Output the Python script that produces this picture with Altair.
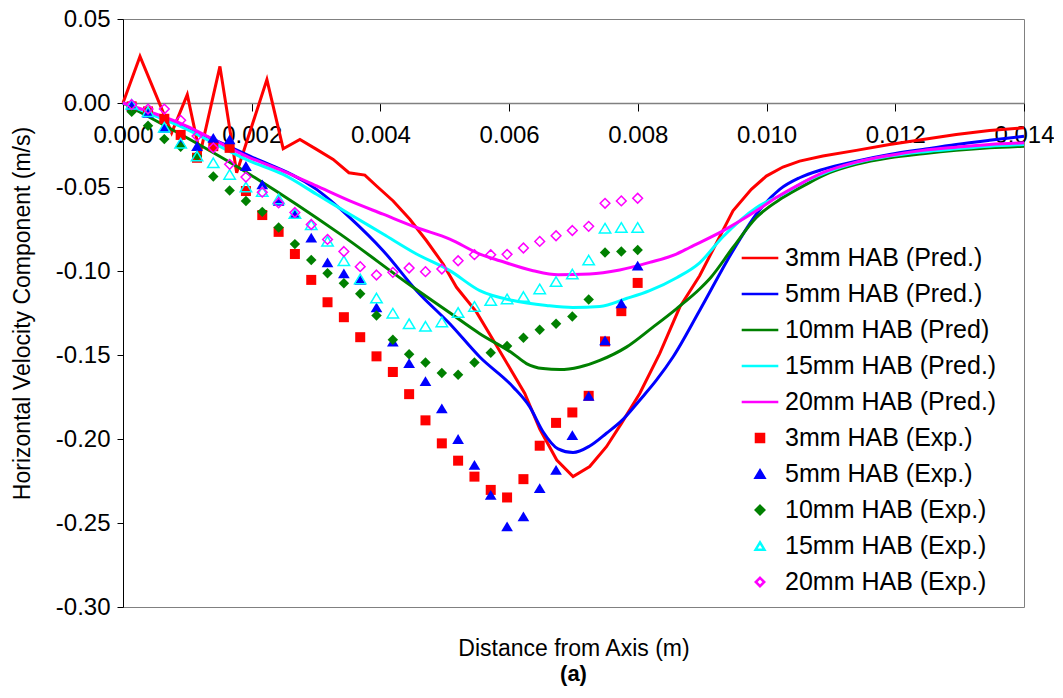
import altair as alt
import pandas as pd

FONT = "Liberation Sans"
W, H = 901, 588
YMIN, YMAX = -0.30, 0.05

pred_names = ["3mm HAB (Pred.)", "5mm HAB (Pred.)", "10mm HAB (Pred)", "15mm HAB (Pred.)", "20mm HAB (Pred.)"]
exp_names = ["3mm HAB (Exp.)", "5mm HAB (Exp.)", "10mm HAB (Exp.)", "15mm HAB (Exp.)", "20mm HAB (Exp.)"]
colors = ["#FF0000", "#0000FF", "#008000", "#00FFFF", "#FF00FF"]

# ---------- predicted profiles ----------
red_pred_x = [0, 0.000264, 0.000756, 0.000999, 0.001196, 0.001506, 0.001766, 0.002236, 0.002489, 0.002749,
              0.003008, 0.003266, 0.003510, 0.003758, 0.003940, 0.004198, 0.004457, 0.004716, 0.004974, 0.005182,
              0.005493, 0.005803, 0.006243, 0.006476, 0.006740, 0.006993, 0.007252, 0.007512, 0.007745, 0.008029,
              0.008339, 0.008650, 0.008960, 0.009478, 0.009763, 0.009996, 0.010254, 0.010513, 0.010875, 0.011394,
              0.011911, 0.012428, 0.012947, 0.013464, 0.014]
red_pred_y = [0, 0.0277, -0.0178, 0.0050, -0.0306, 0.0218, -0.0415, 0.0139, -0.0272, -0.0217,
              -0.0276, -0.0336, -0.0415, -0.0429, -0.0494, -0.0583, -0.0692, -0.0820, -0.0958, -0.1097,
              -0.1245, -0.1443, -0.1729, -0.1941, -0.2125, -0.2224, -0.2164, -0.2046, -0.1907, -0.1729,
              -0.1492, -0.1216, -0.1028, -0.0642, -0.0514, -0.0435, -0.0381, -0.0346, -0.0316, -0.0282,
              -0.0247, -0.0217, -0.0187, -0.0164, -0.0148]

blue_pred_x = [0, 0.000885, 0.001972, 0.003008, 0.003525, 0.004042, 0.004561, 0.005078, 0.005544, 0.006061,
               0.006321, 0.006527, 0.006760, 0.006993, 0.007252, 0.007512, 0.007770, 0.008029, 0.008288, 0.008546,
               0.008960, 0.009478, 0.009841, 0.010204, 0.010513, 0.010875, 0.011394, 0.011911, 0.012428,
               0.012947, 0.013464, 0.014]
blue_pred_y = [0, -0.0132, -0.0316, -0.0514, -0.0682, -0.0879, -0.1117, -0.1314, -0.1512, -0.1690,
               -0.1809, -0.1957, -0.2059, -0.2081, -0.2042, -0.1966, -0.1883, -0.1769, -0.1650, -0.1512,
               -0.1235, -0.0879, -0.0662, -0.0514, -0.0445, -0.0395, -0.0346, -0.0306, -0.0276,
               -0.0247, -0.0222, -0.0198]

green_pred_x = [0, 0.001972, 0.00337, 0.004508, 0.005027, 0.005544, 0.006061, 0.006269, 0.006527, 0.006786,
                0.007097, 0.007408, 0.007822, 0.008235, 0.008599, 0.008960, 0.009130, 0.009478, 0.009841, 0.010254,
                0.010617, 0.010979, 0.011394, 0.011911, 0.012428, 0.012947, 0.013464, 0.014]
green_pred_y = [0, -0.0425, -0.0779, -0.1097, -0.1235, -0.1373, -0.1492, -0.1551, -0.1581, -0.1587,
                -0.1571, -0.1532, -0.1453, -0.1334, -0.1225, -0.1107, -0.1040, -0.0860, -0.0682, -0.0563,
                -0.0484, -0.0415, -0.0365, -0.0326, -0.0302, -0.0282, -0.0267, -0.0257]

cyan_pred_x = [0, 0.000885, 0.001972, 0.002489, 0.003008, 0.003525, 0.004042, 0.004561, 0.005078, 0.005544,
               0.006061, 0.006580, 0.006988, 0.007408, 0.007822, 0.008184, 0.008603, 0.008960, 0.009322, 0.009841,
               0.010254, 0.010617, 0.010979, 0.011394, 0.011911, 0.012428, 0.012947, 0.013464, 0.014]
cyan_pred_y = [0, -0.0138, -0.0346, -0.0425, -0.0543, -0.0662, -0.0780, -0.0899, -0.0998, -0.1117,
               -0.1176, -0.1205, -0.1217, -0.1211, -0.1164, -0.1117, -0.1040, -0.0951, -0.0796, -0.0623,
               -0.0543, -0.0464, -0.0405, -0.0356, -0.0316, -0.0291, -0.0273, -0.0257, -0.0247]

magenta_pred_x = [0, 0.000885, 0.001972, 0.002489, 0.003008, 0.003525, 0.004042, 0.004561, 0.005078, 0.005544,
                  0.005855, 0.006372, 0.006760, 0.007252, 0.007718, 0.008184, 0.008599, 0.008805, 0.009322, 0.009841,
                  0.010151, 0.010513, 0.010875, 0.011394, 0.011911, 0.012428, 0.012947, 0.013464, 0.014]
magenta_pred_y = [0, -0.0120, -0.0326, -0.0405, -0.0494, -0.0583, -0.0662, -0.0741, -0.0810, -0.0899,
                  -0.0939, -0.0998, -0.1022, -0.1018, -0.0994, -0.0949, -0.0899, -0.0860, -0.0761, -0.0642,
                  -0.0563, -0.0484, -0.0415, -0.0352, -0.0312, -0.0282, -0.0263, -0.0247, -0.0237]

# ---------- experimental points ----------
exp_x = [0.000135, 0.000389, 0.000642, 0.000896, 0.001150, 0.001403, 0.001657, 0.001910, 0.002164, 0.002418,
         0.002671, 0.002925, 0.003178, 0.003432, 0.003686, 0.003939, 0.004193, 0.004446, 0.004700, 0.004954,
         0.005207, 0.005461, 0.005714, 0.005968, 0.006222, 0.006475, 0.006729, 0.006982, 0.007236, 0.007490,
         0.007743, 0.007997]
red_exp = [-0.0020, -0.0050, -0.0094, -0.0190, -0.0326, -0.0257, -0.0267, -0.0524, -0.0667, -0.0767,
           -0.0899, -0.1053, -0.1186, -0.1275, -0.1394, -0.1508, -0.1601, -0.1733, -0.1889, -0.2026,
           -0.2129, -0.2224, -0.2303, -0.2348, -0.2239, -0.2040, -0.1904, -0.1842, -0.1743, -0.1419,
           -0.1239, -0.1071]
blue_exp = [-0.0014, -0.0059, -0.0148, -0.0237, -0.0257, -0.0208, -0.0217, -0.0375, -0.0484, -0.0583,
            -0.0662, -0.0801, -0.0949, -0.1014, -0.1053, -0.1216, -0.1420, -0.1548, -0.1656, -0.1818,
            -0.2000, -0.2154, -0.2333, -0.2520, -0.2461, -0.2293, -0.2184, -0.1977, -0.1743, -0.1413,
            -0.1192, -0.0968]
green_exp = [-0.0052, -0.0135, -0.0215, -0.0260, -0.0316, -0.0438, -0.0521, -0.0583, -0.0648, -0.0741,
             -0.0840, -0.0935, -0.1014, -0.1073, -0.1136, -0.1265, -0.1409, -0.1496, -0.1545, -0.1607,
             -0.1617, -0.1545, -0.1486, -0.1447, -0.1397, -0.1350, -0.1314, -0.1271, -0.1170, -0.0890,
             -0.0884, -0.0875]
cyan_exp = [-0.0008, -0.0052, -0.0144, -0.0239, -0.0316, -0.0356, -0.0425, -0.0500, -0.0527, -0.0571,
            -0.0657, -0.0725, -0.0823, -0.0939, -0.1047, -0.1161, -0.1251, -0.1314, -0.1329, -0.1303,
            -0.1247, -0.1211, -0.1176, -0.1166, -0.1152, -0.1107, -0.1063, -0.1018, -0.0935, -0.0745,
            -0.0741, -0.0741]
magenta_exp = [-0.0009, -0.0036, -0.0036, -0.0103, -0.0197, -0.0267, -0.0365, -0.0441, -0.0531, -0.0595,
               -0.0652, -0.0723, -0.0812, -0.0884, -0.0974, -0.1024, -0.1008, -0.0982, -0.1004, -0.0988,
               -0.0939, -0.0903, -0.0903, -0.0901, -0.0863, -0.0824, -0.0790, -0.0759, -0.0734, -0.0597,
               -0.0583, -0.0567]

x_ticks = [0, 0.002, 0.004, 0.006, 0.008, 0.010, 0.012, 0.014]
y_ticks = [0.05, 0.0, -0.05, -0.10, -0.15, -0.20, -0.25, -0.30]

pred_x = [red_pred_x, blue_pred_x, green_pred_x, cyan_pred_x, magenta_pred_x]
pred_y = [red_pred_y, blue_pred_y, green_pred_y, cyan_pred_y, magenta_pred_y]
exp_y = [red_exp, blue_exp, green_exp, cyan_exp, magenta_exp]

# custom marker paths (unit box), shared by plot and legend
SQUARE = "M-0.22,-0.22H0.22V0.22H-0.22Z"
TRI = "M0,-0.2L0.24,0.2L-0.24,0.2Z"
DIAM = "M0,-0.23L0.23,0L0,0.23L-0.23,0Z"
exp_shapes = [SQUARE, TRI, DIAM, TRI, DIAM]
exp_fills = [colors[0], colors[1], colors[2], "transparent", "transparent"]
exp_sizes = [2070, 2380, 2070, 2260, 1780]
exp_strokes = [0, 0, 0, 1.5, 1.5]

all_names = pred_names + exp_names
zero_px = H * YMAX / (YMAX - YMIN)

legend = alt.Legend(
    title=None, orient="none", legendX=617, legendY=219,
    labelFont=FONT, labelFontSize=25, labelColor="black", labelLimit=400,
    labelOffset=5, rowPadding=3, symbolSize=1340, symbolStrokeWidth=2.5, padding=0,
    symbolOpacity=1,
)

color = alt.Color("series:N", scale=alt.Scale(domain=all_names, range=colors + colors), legend=legend)
shape = alt.Shape("series:N", scale=alt.Scale(domain=all_names, range=["stroke"] * 5 + exp_shapes), legend=legend)
fill = alt.Fill("series:N", scale=alt.Scale(domain=all_names, range=["transparent"] * 5 + exp_fills), legend=legend)

x = alt.X("x:Q", scale=alt.Scale(domain=[0, 0.014], nice=False, zero=False),
          axis=alt.Axis(values=x_ticks, format=".3f", title="Distance from Axis (m)",
                        offset=-(H - zero_px), grid=False, domainColor="#808080", domainWidth=1.5,
                        tickColor="black", tickSize=8, labelPadding=12, labelFlush=False,
                        labelOverlap=False, titleY=545, titleBaseline="middle"))
y = alt.Y("y:Q", scale=alt.Scale(domain=[YMIN, YMAX], nice=False, zero=False),
          axis=alt.Axis(values=y_ticks, title="Horizontal Velocity Component (m/s)",
                        labelExpr="replace(format(datum.value, '.2f'), '\u2212', '-')",
                        grid=False, domainColor="black", tickColor="black", tickSize=6,
                        labelPadding=7, titleX=-101, titleBaseline="middle"))

layers = []
for i in range(5):
    df = pd.DataFrame({"x": pred_x[i], "y": pred_y[i], "series": pred_names[i]})
    layers.append(
        alt.Chart(df).mark_line(strokeWidth=3, interpolate="linear" if i == 0 else "monotone")
        .encode(x=x, y=y, color=color)
    )
for i in range(5):
    df = pd.DataFrame({"x": exp_x, "y": exp_y[i], "series": exp_names[i]})
    layers.append(
        alt.Chart(df).mark_point(size=exp_sizes[i], filled=False, opacity=1, strokeWidth=exp_strokes[i])
        .encode(x=x, y=y, color=color, shape=shape, fill=fill)
    )

chart = (
    alt.layer(*layers)
    .properties(
        width=W, height=H,
        autosize=alt.AutoSizeParams(type="none"),
        padding={"left": 115, "top": 11, "right": 30, "bottom": 85},
        title=alt.Title("(a)", orient="bottom", frame="group", offset=4, fontSize=22,
                        fontWeight="bold", font=FONT, color="black", anchor="middle"),
    )
    .configure_view(stroke="#808080", strokeWidth=1)
    .configure_axis(labelFont=FONT, labelFontSize=24, labelColor="black", titleFont=FONT,
                    titleFontSize=23, titleFontWeight="normal", titleColor="black")
)

chart.save("out.html", embed_options={"renderer": "svg", "actions": False})
